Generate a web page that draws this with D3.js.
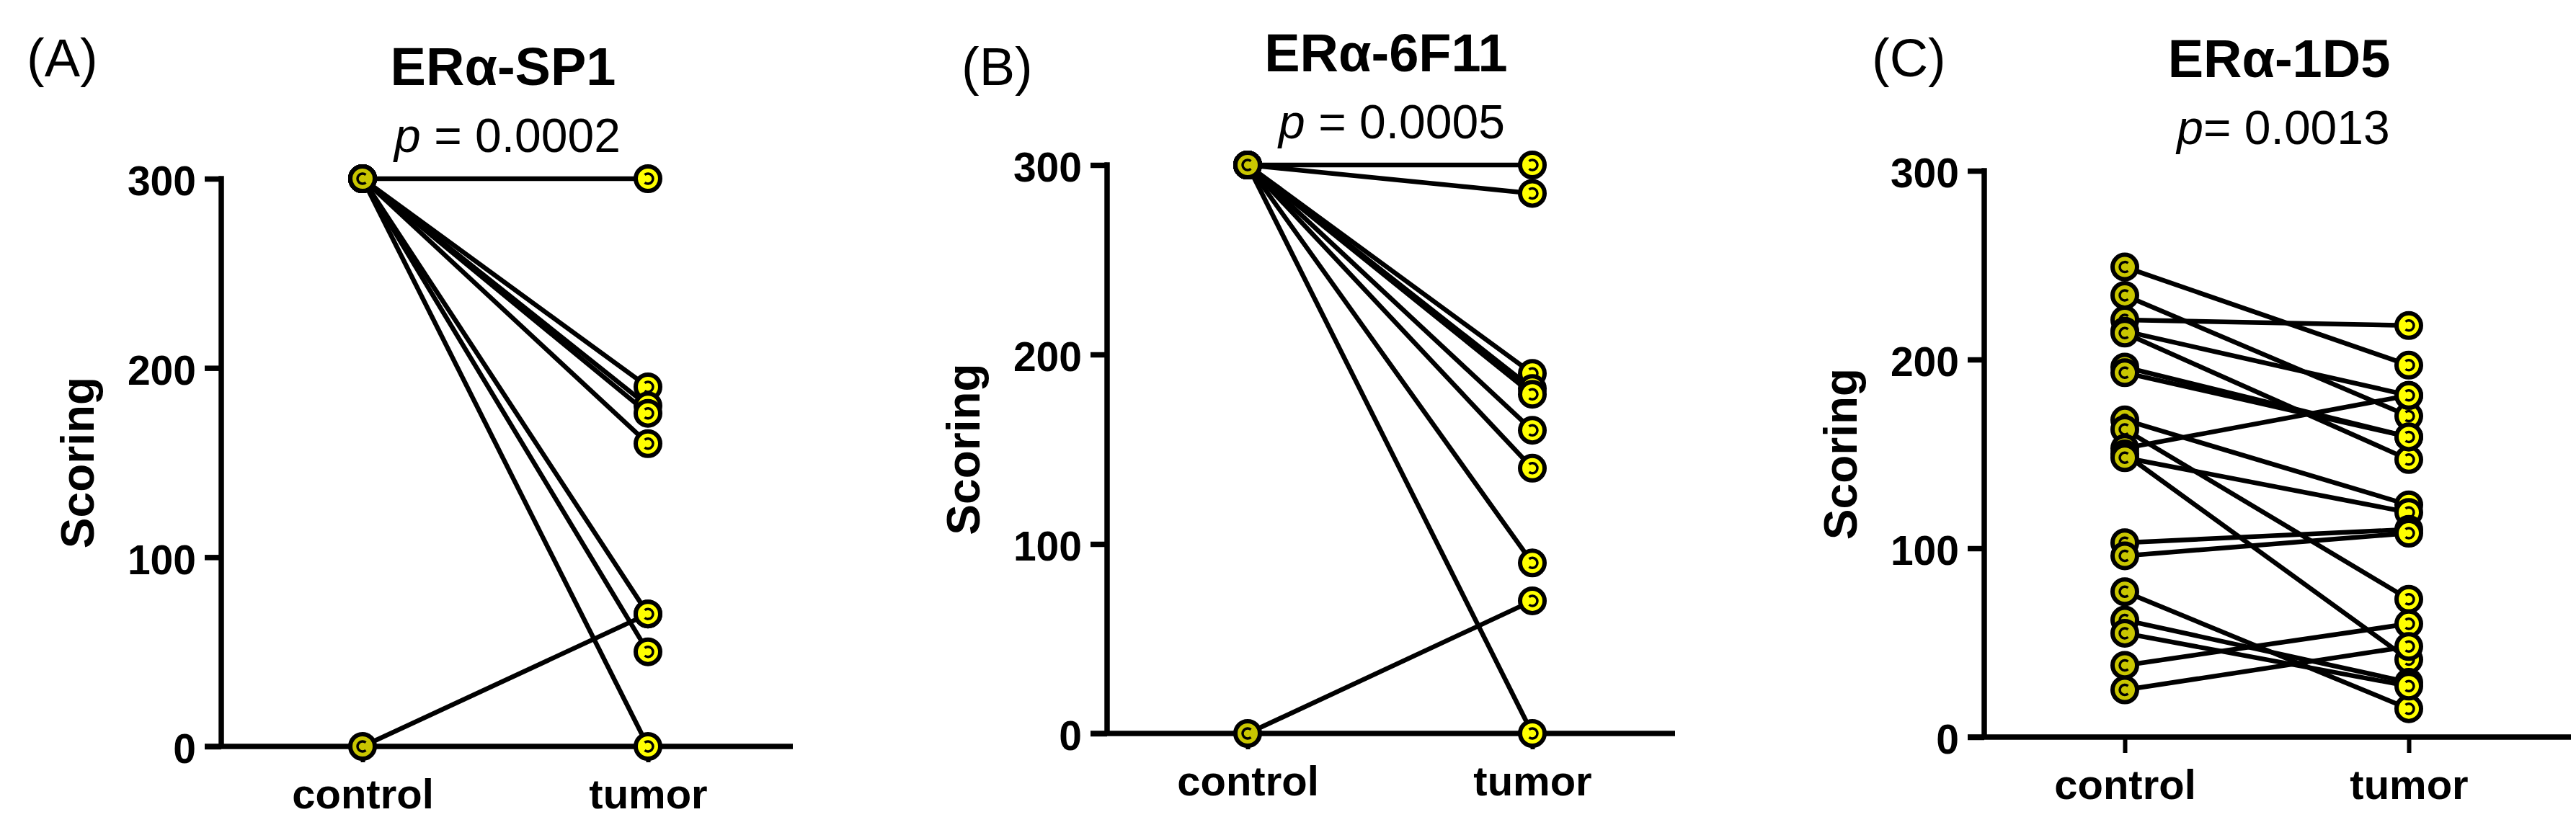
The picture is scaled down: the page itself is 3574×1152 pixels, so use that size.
<!DOCTYPE html>
<html>
<head>
<meta charset="utf-8">
<script src="https://cdn.jsdelivr.net/npm/d3@7"></script>
<style>
  html, body { margin: 0; padding: 0; background: #ffffff; }
  svg { display: block; }
  text { font-family: "Liberation Sans", Arial, Helvetica, sans-serif; fill: #000; }
</style>
</head>
<body>
<svg id="chart" width="3574" height="1152"></svg>
<script>
// ---------------- data ----------------
const categories = ["control", "tumor"];
const yTicks = [0, 100, 200, 300];
const panelLabels = ["(A)", "(B)", "(C)"];
const titles = ["ERα-SP1", "ERα-6F11", "ERα-1D5"];
const pValues = ["0.0002", "0.0005", "0.0013"];
const pSeparators = [" = ", " = ", "= "];
const yLabel = "Scoring";

// paired scores (control[i] -> tumor[i])
const sp1Control  = [300, 300, 300, 300, 300, 300, 300, 300, 0];
const sp1Tumor    = [300, 190, 180, 176, 160, 70, 50, 0, 70];

const f11Control  = [300, 300, 300, 300, 300, 300, 300, 300, 300, 0];
const f11Tumor    = [300, 285, 190, 182, 179, 160, 140, 90, 0, 70];

const d5Control   = [249, 234, 221, 215, 214, 196, 193, 168, 163, 153, 150, 148, 103, 96, 77, 62, 55, 38, 25];
const d5Tumor     = [197, 170, 218, 181, 147, 159, 159, 123, 73, 181, 41, 119, 110, 108, 15, 29, 27, 60, 48];

const controlSeries = [sp1Control, f11Control, d5Control];
const tumorSeries = [sp1Tumor, f11Tumor, d5Tumor];

// ---------------- layout ----------------
const layout = [
  { axisX: 307,  ctrlX: 503,  tumX: 899,  xEnd: 1100, yTop: 248, yBot: 1036, labelX: 37,   labelY: 106, titleX: 698,  pX: 704 },
  { axisX: 1536, ctrlX: 1731, tumX: 2126, xEnd: 2324, yTop: 229, yBot: 1018, labelX: 1334, labelY: 118, titleX: 1923, pX: 1931 },
  { axisX: 2753, ctrlX: 2948, tumX: 3342, xEnd: 3567, yTop: 237, yBot: 1023, labelX: 2597, labelY: 106, titleX: 3162, pX: 3168 }
];

const svg = d3.select("#chart");
const ctrlFill = "#c9c600";
const tumFill = "#ffff00";
const axisW = 7.5;
const ptR = 17;
const arcR = 7;

function innerArc(cx, cy, openRight) {
  const a = 50 * Math.PI / 180;
  const dx = arcR * Math.cos(a), dy = arcR * Math.sin(a);
  if (openRight) {
    return `M${cx + dx},${cy - dy} A${arcR},${arcR} 0 1 0 ${cx + dx},${cy + dy}`;
  }
  return `M${cx - dx},${cy - dy} A${arcR},${arcR} 0 1 1 ${cx - dx},${cy + dy}`;
}

layout.forEach((L, i) => {
  const g = svg.append("g");
  const y = d3.scaleLinear().domain([0, 300]).range([L.yBot, L.yTop]);
  const x = d3.scalePoint().domain(categories).range([L.ctrlX, L.tumX]);

  // panel label
  g.append("text").attr("x", L.labelX).attr("y", L.labelY)
    .attr("font-size", 74).text(panelLabels[i]);

  // title
  g.append("text").attr("x", L.titleX).attr("y", L.yTop - 130)
    .attr("text-anchor", "middle").attr("font-size", 74).attr("font-weight", "bold")
    .text(titles[i]);

  // p value
  const pt = g.append("text").attr("x", L.pX).attr("y", L.yTop - 37)
    .attr("text-anchor", "middle").attr("font-size", 66);
  pt.append("tspan").attr("font-style", "italic").text("p");
  pt.append("tspan").attr("xml:space", "preserve").text(pSeparators[i] + pValues[i]);

  // y axis
  const yAxis = g.append("g").attr("transform", `translate(${L.axisX},0)`)
    .call(d3.axisLeft(y).tickValues(yTicks).tickSize(23).tickSizeOuter(0).tickPadding(12));
  yAxis.select(".domain").remove();
  yAxis.selectAll(".tick line").attr("stroke", "#000").attr("stroke-width", axisW);
  yAxis.selectAll(".tick text").attr("font-size", 57).attr("font-weight", "bold")
    .attr("font-family", "Liberation Sans, Arial, sans-serif").attr("fill", "#000").attr("dy", "0.4em");
  g.append("line").attr("x1", L.axisX).attr("x2", L.axisX)
    .attr("y1", L.yTop - axisW / 2).attr("y2", L.yBot)
    .attr("stroke", "#000").attr("stroke-width", axisW);

  // x axis
  const xAxis = g.append("g").attr("transform", `translate(0,${L.yBot})`)
    .call(d3.axisBottom(x).tickSize(22).tickSizeOuter(0));
  xAxis.select(".domain").remove();
  xAxis.selectAll(".tick line").attr("stroke", "#000").attr("stroke-width", 6);
  xAxis.selectAll(".tick text").attr("font-size", 58).attr("font-weight", "bold")
    .attr("font-family", "Liberation Sans, Arial, sans-serif").attr("fill", "#000")
    .attr("dy", null).attr("y", 86);
  g.append("line").attr("x1", L.axisX - 23).attr("x2", L.xEnd)
    .attr("y1", L.yBot).attr("y2", L.yBot)
    .attr("stroke", "#000").attr("stroke-width", axisW);

  // y label
  g.append("text")
    .attr("transform", `translate(${L.axisX - 177},${(L.yTop + L.yBot) / 2}) rotate(-90)`)
    .attr("text-anchor", "middle").attr("font-size", 64).attr("font-weight", "bold")
    .text(yLabel);

  // paired lines
  const pairs = controlSeries[i].map((c, k) => ({ c: c, t: tumorSeries[i][k] }));
  g.append("g").selectAll("line").data(pairs).join("line")
    .attr("x1", x("control")).attr("x2", x("tumor"))
    .attr("y1", d => y(d.c)).attr("y2", d => y(d.t))
    .attr("stroke", "#000").attr("stroke-width", 6.5);

  // points: control
  const cg = g.append("g").selectAll("g").data(pairs).join("g");
  cg.append("circle")
    .attr("cx", x("control")).attr("cy", d => y(d.c)).attr("r", ptR)
    .attr("fill", ctrlFill).attr("stroke", "#000").attr("stroke-width", 6);
  cg.append("path")
    .attr("d", d => innerArc(x("control"), y(d.c), true))
    .attr("fill", "none").attr("stroke", "#000").attr("stroke-width", 3.5);

  // points: tumor
  const tg = g.append("g").selectAll("g").data(pairs).join("g");
  tg.append("circle")
    .attr("cx", x("tumor")).attr("cy", d => y(d.t)).attr("r", ptR)
    .attr("fill", tumFill).attr("stroke", "#000").attr("stroke-width", 6);
  tg.append("path")
    .attr("d", d => innerArc(x("tumor"), y(d.t), false))
    .attr("fill", "none").attr("stroke", "#000").attr("stroke-width", 3.5);
});
</script>
</body>
</html>
